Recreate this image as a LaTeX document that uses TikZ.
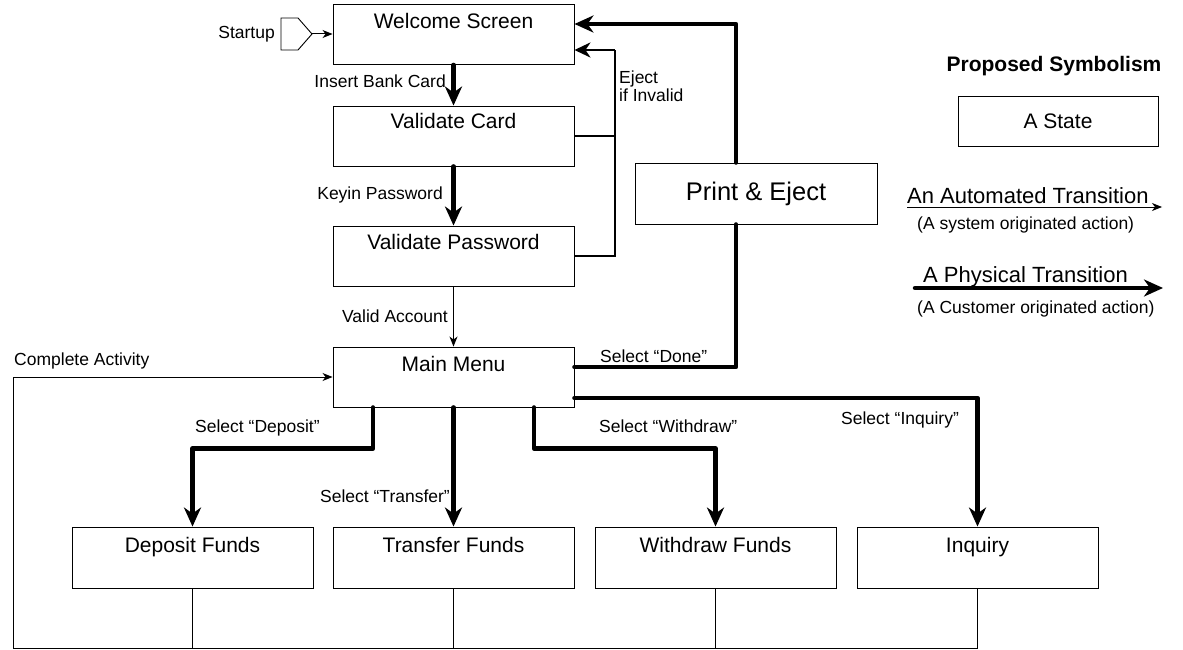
\documentclass[tikz,border=0pt]{standalone}
\usepackage{fontspec}
\setmainfont{Liberation Sans}
\usetikzlibrary{arrows.meta}
\begin{document}
\begin{tikzpicture}[x=1pt,y=-1pt,
  box/.style={draw, line width=0.9pt, rectangle, inner sep=0pt, minimum width=241pt, minimum height=60pt},
  btxt/.style={inner sep=0pt, font=\fontsize{21}{25}\selectfont},
  lbl/.style={inner sep=0pt, font=\fontsize{17.5}{18}\selectfont},
  bigtxt/.style={inner sep=0pt, font=\fontsize{22}{26}\selectfont},
  phys/.style={line width=4.5pt, line join=round, line cap=round, -{Stealth[length=19pt,width=17pt,inset=6pt]}},
  physline/.style={line width=4.5pt, line join=round, line cap=round},
  mid/.style={line width=2pt},
  midarr/.style={line width=2.6pt, -{Stealth[length=16pt,width=15pt,inset=5pt]}},
  autoarr/.style={line width=1pt, -{Stealth[length=10pt,width=8pt,inset=3pt]}},
  thinline/.style={line width=1pt}]
\useasboundingbox (0,0) rectangle (1183,650);

% states
\node[box] (ws) at (453.5,34.5) {};
\node[btxt, anchor=base] (wst) at ([yshift=-24.5pt]ws.north) {Welcome Screen};
\node[box] (vc) at (453.5,136) {};
\node[btxt, anchor=base] (vct) at ([yshift=-23pt]vc.north) {Validate Card};
\node[box] (vp) at (453.5,256) {};
\node[btxt, anchor=base] (vpt) at ([yshift=-24pt]vp.north) {Validate Password};
\node[box] (mm) at (453.5,377) {};
\node[btxt, anchor=base] (mmt) at ([yshift=-24.5pt]mm.north) {Main Menu};
\node[box, minimum width=242pt, minimum height=61pt, font=\fontsize{25.5}{28}\selectfont] (pe) at (756,193.5) {Print \& Eject};

\node[box, minimum height=61pt] (df) at (192.5,557.5) {};
\node[btxt, anchor=base] (dft) at ([yshift=-25.5pt]df.north) {Deposit Funds};
\node[box, minimum height=61pt] (tf) at (453.5,557.5) {};
\node[btxt, anchor=base] (tft) at ([yshift=-25.5pt]tf.north) {Transfer Funds};
\node[box, minimum height=61pt] (wf) at (715.5,557.5) {};
\node[btxt, anchor=base] (wft) at ([yshift=-25.5pt]wf.north) {Withdraw Funds};
\node[box, minimum height=61pt] (iq) at (977.5,557.5) {};
\node[btxt, anchor=base] (iqt) at ([yshift=-25.5pt]iq.north) {Inquiry};

% startup
\draw[line width=0.9pt] (281,18) -- (298,18) -- (312,34) -- (298,50) -- (281,50) -- cycle;
\coordinate (sut) at (312,34);
\node[lbl, anchor=east] (sul) at (275,34) {Startup};
\draw[autoarr] (sut) -- (sut -| ws.west);

% main flow
\draw[phys] (ws.south) -- (vc.north);
\node[lbl, anchor=base east] (ibc) at (446,88) {Insert Bank Card};
\draw[phys] (vc.south) -- (vp.north);
\node[lbl, anchor=base east] (kp) at (443,199) {Keyin Password};
\draw[autoarr] (vp.south) -- (mm.north);
\node[lbl, anchor=base east] (va) at (448,322) {Valid Account};

% eject if invalid
\coordinate (ej) at (615,50);
\draw[mid] (vp.east) -| (ej);
\draw[midarr] (ej) -- (ej -| ws.east);
\draw[mid] (vc.east) -- (vc.east -| ej);
\node[lbl, anchor=base west, align=left] (ejl) at (619,102) {Eject\\if Invalid};

% print & eject
\draw[phys] ([xshift=-20pt]pe.north) |- ([yshift=10.5pt]ws.east);
\draw[physline] ([yshift=10pt]mm.east) -| ([xshift=-20pt]pe.south);
\node[lbl, anchor=base west] (sdn) at (600,362) {Select “Done”};

% menu selections
\draw[phys] ([yshift=-21pt]mm.east) -| (iq.north);
\node[lbl, anchor=base west] (siq) at (841,424) {Select “Inquiry”};
\draw[phys] ([xshift=-80.5pt]mm.south) -- ++(0,41) -| (df.north);
\node[lbl, anchor=base west] (sdp) at (195,432) {Select “Deposit”};
\draw[phys] (mm.south) -- (tf.north);
\node[lbl, anchor=base east] (str) at (450,502) {Select “Transfer”};
\draw[phys] ([xshift=80.5pt]mm.south) -- ++(0,41) -| (wf.north);
\node[lbl, anchor=base west] (swd) at (599,432) {Select “Withdraw”};

% complete activity
\coordinate (bl) at (13,648);
\draw[autoarr] (iq.south) |- (bl) |- (mm.west);
\draw[thinline] (df.south) -- (df.south |- bl);
\draw[thinline] (tf.south) -- (tf.south |- bl);
\draw[thinline] (wf.south) -- (wf.south |- bl);
\node[lbl, anchor=base west] (cal) at (14,365) {Complete Activity};

% legend
\node[inner sep=0pt, font=\fontsize{21}{25}\selectfont\bfseries, anchor=base] (ps) at (1054,72) {Proposed Symbolism};
\node[box, minimum width=200pt, minimum height=50pt, font=\fontsize{21}{25}\selectfont] (as) at (1058,121) {A State};
\coordinate (a1) at (907,207);
\coordinate (a2) at (1162,207);
\draw[autoarr] (a1) -- (a2);
\node[bigtxt, anchor=base west] (aat) at (907,203) {An Automated Transition};
\node[lbl, anchor=base west] (asy) at (917,229) {(A system originated action)};
\coordinate (p1) at (915,288);
\coordinate (p2) at (1163,288);
\draw[phys] (p1) -- (p2);
\node[bigtxt, anchor=base west] (apt) at (923,282) {A Physical Transition};
\node[lbl, anchor=base west] (acu) at (917,313) {(A Customer originated action)};
\end{tikzpicture}
\end{document}
